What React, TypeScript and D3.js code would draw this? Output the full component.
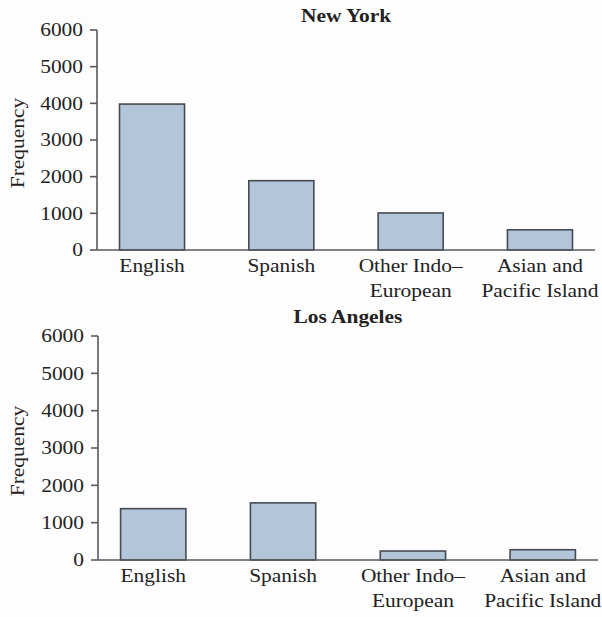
import React from "react";
import * as d3 from "d3";

const categories = ["English", "Spanish", "Other Indo–\nEuropean", "Asian and\nPacific Island"];
const newYorkValues = [3980, 1890, 1010, 550];
const losAngelesValues = [1375, 1530, 240, 275];
const yTicks = [0, 1000, 2000, 3000, 4000, 5000, 6000];
const panelTitles = ["New York", "Los Angeles"];

const FONT = "'Liberation Serif', 'Times New Roman', serif";
const TEXT = "#222";
const AXIS = "#555a60";
const FILL = "#b3c6d9";
const STROKE = "#464b52";
const SX = 1.19;

type TProps = {
  x: number;
  y: number;
  anchor?: "start" | "middle" | "end";
  size?: number;
  bold?: boolean;
  rotate?: number;
  dy?: string;
  children: React.ReactNode;
};

function T({ x, y, anchor = "middle", size = 18, bold = false, rotate = 0, dy, children }: TProps) {
  return (
    <text
      transform={`translate(${x},${y}) rotate(${rotate}) scale(${SX},1)`}
      textAnchor={anchor}
      fontFamily={FONT}
      fontSize={size}
      fontWeight={bold ? "bold" : "normal"}
      fill={TEXT}
      dy={dy}
    >
      {children}
    </text>
  );
}

type PanelProps = {
  title: string;
  values: number[];
  x0: number;
  x1: number;
  yTop: number;
  yBottom: number;
  titleY: number;
};

function Panel({ title, values, x0, x1, yTop, yBottom, titleY }: PanelProps) {
  const x = d3.scaleBand<string>().domain(categories).range([x0, x1]).paddingInner(0.497).paddingOuter(0.174);
  const y = d3.scaleLinear().domain([0, 6000]).range([yBottom, yTop]);
  const cx = (x0 + x1) / 2;
  return (
    <g>
      <T x={cx} y={titleY} bold size={18}>
        {title}
      </T>
      <T x={24} y={(yTop + yBottom) / 2 + 3} rotate={-90} size={18}>
        Frequency
      </T>
      {values.map((v, i) => (
        <rect
          key={i}
          x={x(categories[i])!}
          y={y(v)}
          width={x.bandwidth()}
          height={y(0) - y(v)}
          fill={FILL}
          stroke={STROKE}
          strokeWidth={1.6}
        />
      ))}
      <line x1={x0} x2={x0} y1={yTop} y2={yBottom} stroke={AXIS} strokeWidth={1.6} />
      <line x1={x0} x2={x1} y1={yBottom} y2={yBottom} stroke={AXIS} strokeWidth={1.6} />
      {yTicks.map((t) => (
        <g key={t}>
          <line x1={x0 - 7} x2={x0} y1={y(t)} y2={y(t)} stroke={AXIS} strokeWidth={1.6} />
          <T x={x0 - 14} y={y(t)} dy="0.35em" anchor="end" size={18}>
            {t}
          </T>
        </g>
      ))}
      {categories.map((c) => {
        const lines = c.split("\n");
        const center = x(c)! + x.bandwidth() / 2;
        return (
          <g key={c}>
            {lines.map((l, j) => (
              <T key={j} x={center} y={yBottom + 22 + j * 25} size={18}>
                {l}
              </T>
            ))}
          </g>
        );
      })}
    </g>
  );
}

export default function App() {
  return (
    <svg width={602} height={617} style={{ position: "absolute", left: 0, top: 0, background: "#fff" }}>
      <rect x={0} y={0} width={602} height={617} fill="#fdfdfd" />
      <Panel title={panelTitles[0]} values={newYorkValues} x0={97} x1={595} yTop={30} yBottom={250} titleY={22} />
      <Panel title={panelTitles[1]} values={losAngelesValues} x0={98} x1={598} yTop={336} yBottom={560} titleY={323} />
    </svg>
  );
}
